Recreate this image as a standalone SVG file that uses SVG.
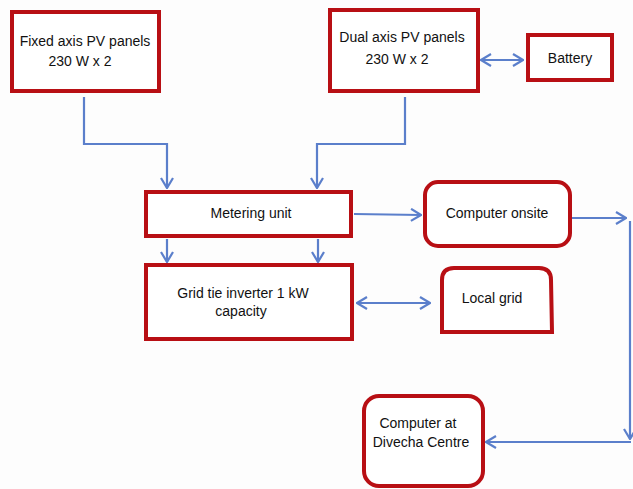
<svg xmlns="http://www.w3.org/2000/svg" width="633" height="489" viewBox="0 0 633 489">
<defs>
<style>
.box{fill:#ffffff;stroke:#b80f14;stroke-width:4}
.t{font-family:"Liberation Sans",Arial,sans-serif;font-size:14px;fill:#111;text-anchor:middle}
.c{fill:none;stroke:#5b7fcb;stroke-width:2.2}
</style>
<marker id="ah" viewBox="0 0 12 14" refX="11" refY="7" markerWidth="12" markerHeight="14" markerUnits="userSpaceOnUse" orient="auto-start-reverse">
<path d="M1 1 L11 7 L1 13" fill="none" stroke="#5b7fcb" stroke-width="2.2"/>
</marker>
</defs>
<rect width="633" height="489" fill="#fdfdfd"/>
<g id="connectors">
<path class="c" d="M84 97 V144 H167 V188" marker-end="url(#ah)"/>
<path class="c" d="M405 97 V144 H317 V188" marker-end="url(#ah)"/>
<path class="c" d="M481 60 H523" marker-start="url(#ah)" marker-end="url(#ah)"/>
<path class="c" d="M167 239 V262" marker-end="url(#ah)"/>
<path class="c" d="M318 239 V262" marker-end="url(#ah)"/>
<path class="c" d="M354 214 L421 215" marker-end="url(#ah)"/>
<path class="c" d="M357 303 H430" marker-start="url(#ah)" marker-end="url(#ah)"/>
<path class="c" d="M572 218 H626" marker-end="url(#ah)"/>
<path class="c" d="M630 221 V439" marker-end="url(#ah)"/>
<path class="c" d="M631 442 H486" marker-end="url(#ah)"/>
</g>
<g id="fixed">
<rect class="box" x="12" y="12" width="147" height="79"/>
<text class="t" x="85" y="46">Fixed axis PV panels</text>
<text class="t" x="80" y="66">230 W x 2</text>
</g>
<g id="dual">
<rect class="box" x="330" y="10" width="148" height="81"/>
<text class="t" x="402" y="42">Dual axis PV panels</text>
<text class="t" x="397" y="64">230 W x 2</text>
</g>
<g id="battery">
<rect class="box" x="528" y="35" width="84" height="45"/>
<text class="t" x="570" y="63">Battery</text>
</g>
<g id="metering">
<rect class="box" x="146" y="192" width="205" height="44"/>
<text class="t" x="251" y="218">Metering unit</text>
</g>
<g id="inverter">
<rect class="box" x="146" y="265" width="206" height="74"/>
<text class="t" x="243" y="298">Grid tie inverter 1 kW</text>
<text class="t" x="241" y="316">capacity</text>
</g>
<g id="computer-onsite">
<rect class="box" x="425" y="182" width="145" height="64" rx="13" ry="13"/>
<text class="t" x="497" y="218">Computer onsite</text>
</g>
<g id="local-grid">
<path class="box" d="M442 332 L442 280 Q442 268 454 268 L539 268 Q551 268 551 280 L552 332 Z"/>
<text class="t" x="492" y="303">Local grid</text>
</g>
<g id="computer-divecha">
<rect class="box" x="364" y="396" width="119" height="90" rx="15" ry="15"/>
<text class="t" x="418" y="428">Computer at</text>
<text class="t" x="421" y="447">Divecha Centre</text>
</g>
</svg>
